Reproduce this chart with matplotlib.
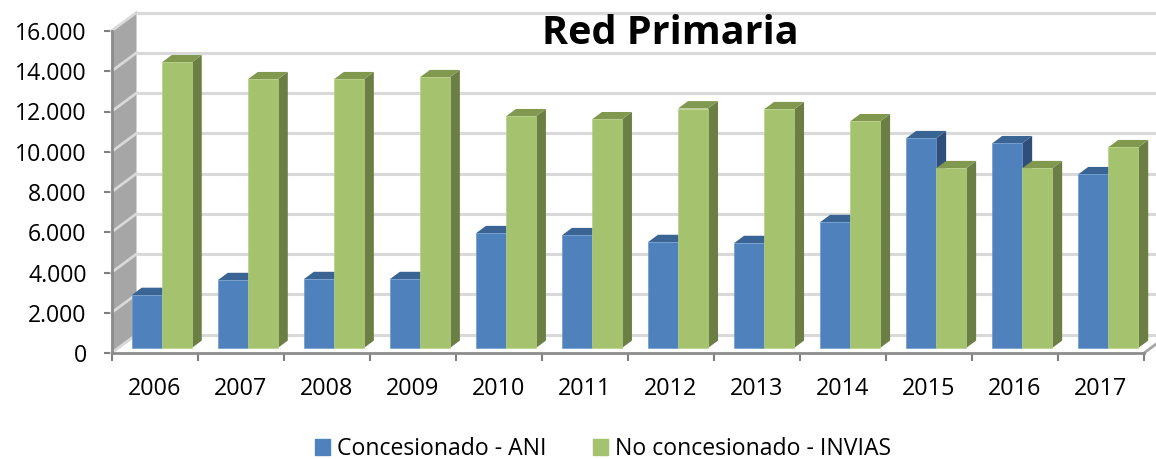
#!/usr/bin/env python3

import numpy as np
import matplotlib
matplotlib.use('Agg')
import matplotlib.pyplot as plt
from matplotlib.patches import Patch

plt.rcParams['font.family'] = ['Open Sans', 'DejaVu Sans']

years = ['2006', '2007', '2008', '2009', '2010', '2011',
         '2012', '2013', '2014', '2015', '2016', '2017']
ani = [2630, 3370, 3420, 3420, 5700, 5600, 5260, 5210, 6250, 10420, 10170, 8630]
invias = [14190, 13350, 13350, 13450, 11510, 11360, 11900, 11860, 11260, 8930, 8930, 9970]
yticks = [0, 2000, 4000, 6000, 8000, 10000, 12000, 14000, 16000]
ylabels = ['0', '2.000', '4.000', '6.000', '8.000', '10.000', '12.000', '14.000', '16.000']
title = 'Red Primaria'
series = ['Concesionado - ANI', 'No concesionado - INVIAS']

W, H = 1156, 459
LEFT, RIGHT, BOTTOM, TOP = 111.5, 1144, 353, 31

fig = plt.figure(figsize=(W / 100, H / 100), dpi=100)
ax = fig.add_axes([LEFT / W, 1 - BOTTOM / H, (RIGHT - LEFT) / W, (BOTTOM - TOP) / H])
ax.set_xlim(0, 12)
ax.set_ylim(0, 16000)
ax.patch.set_alpha(0)

# full depth of the box and scale from pixels to data
px_x = 12 / (RIGHT - LEFT)
px_y = 16000 / (BOTTOM - TOP)
DX, DY = 25 * px_x, 18.5 * px_y


def depth(z):
    return z * DX, z * DY


# floor and left wall under the gridlines
ax.fill([0, 12, 12 + DX, DX], [0, 0, DY, DY], color='white', lw=0, zorder=1, clip_on=False)
ax.fill([0, DX, DX, 0], [0, DY, 16000 + DY, 16000], color='#a6a6a6', lw=0, zorder=1, clip_on=False)
for v in yticks:
    ax.plot([DX, 12 + DX], [v + DY, v + DY], color='#d9d9d9', lw=2.2,
            clip_on=False, zorder=2, solid_capstyle='butt')
    ax.plot([0, DX], [v, v + DY], color='#d9d9d9', lw=2, clip_on=False, zorder=3)
ax.plot([12, 12 + DX], [0, DY], color='#a6a6a6', lw=2, clip_on=False, zorder=3)

# bars, painted left to right so the nearer faces cover the others
width = 30 * px_x
z0, z1 = 0.27, 0.67
x0, y0 = depth(z0)
x1, y1 = depth(z1)
zo = 5
for i in range(len(years)):
    left = i + 13.5 * px_x
    for j, (val, front, top, side, edge) in enumerate([
            (ani[i], '#4f81bd', '#3a6494', '#2f4f7a', '#6f9bcd'),
            (invias[i], '#a5c36f', '#80994f', '#6b7f45', '#b7d185')]):
        xa = left + j * width + x0
        xb = xa + width
        dx, dy = x1 - x0, y1 - y0
        ax.fill([xb, xb + dx, xb + dx, xb], [y0, y1, val + y1, val + y0],
                color=side, lw=0, zorder=zo, clip_on=False)
        ax.fill([xa, xb, xb + dx, xa + dx], [val + y0, val + y0, val + y1, val + y1],
                color=top, lw=0, zorder=zo, clip_on=False)
        ax.bar(xa, val, width=width, bottom=y0, align='edge', color=front,
               edgecolor=edge, linewidth=0.5, zorder=zo + 1, clip_on=False)
        zo += 2

ax.set_xticks(range(13))
ax.set_xticklabels([])
ax.set_xticks(np.arange(12) + 0.5, labels=years, minor=True)
ax.tick_params(axis='x', which='major', length=6, width=1.5, color='#7f7f7f')
ax.tick_params(axis='x', which='minor', length=0, pad=17.5, labelsize=16.8, labelcolor='black')
ax.set_yticks(yticks, labels=ylabels)
ax.tick_params(axis='y', length=6, width=1.5, color='#7f7f7f', pad=12, labelsize=16.6, labelcolor='black')
for s in ['top', 'right']:
    ax.spines[s].set_visible(False)
for s in ['left', 'bottom']:
    ax.spines[s].set_color('#8c8c8c')
    ax.spines[s].set_linewidth(2)
    ax.spines[s].set_zorder(40)

fig.text(670 / W, 1 - 34 / H, title, fontsize=28.5, fontweight='bold', ha='center', va='center', zorder=100)

handles = [Patch(color='#4f81bd'), Patch(color='#a5c36f')]
fig.legend(handles, series, loc='center', bbox_to_anchor=(603 / W, 1 - 449 / H), ncol=2,
           frameon=False, fontsize=16.6, handlelength=0.65, handleheight=0.65,
           handletextpad=0.3, columnspacing=2.0)

fig.savefig('out.png', dpi=100)
